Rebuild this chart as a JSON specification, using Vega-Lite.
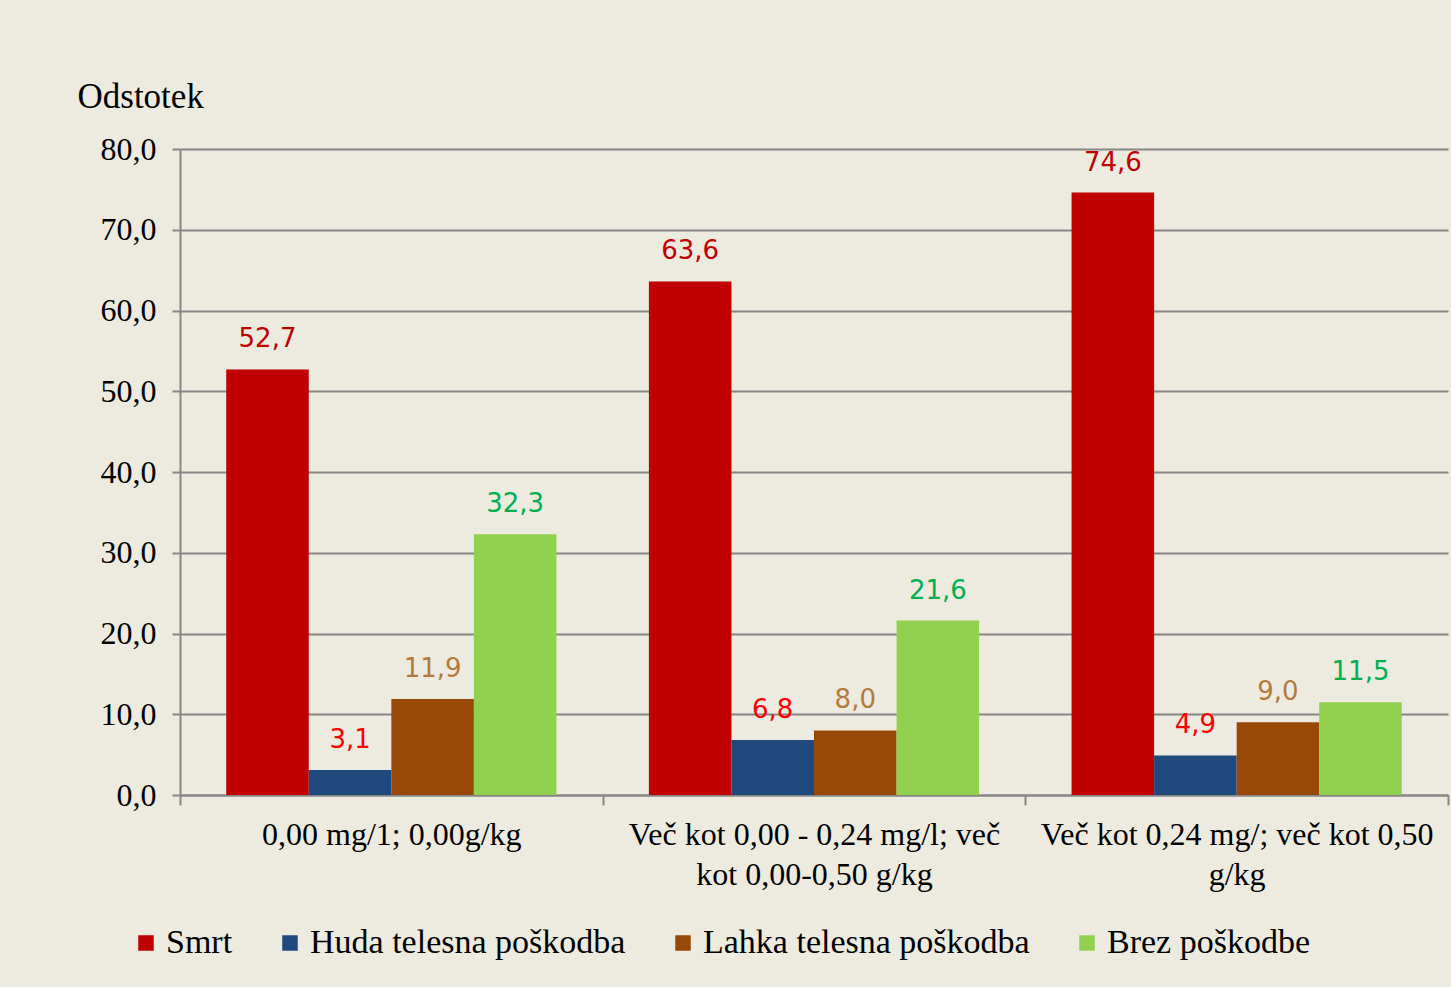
{
  "$schema": "https://vega.github.io/schema/vega-lite/v6.json",
  "autosize": {"type": "none"},
  "padding": {"left": 180, "top": 149, "right": 3, "bottom": 192},
  "width": 1268,
  "height": 646,
  "background": "#EDEBE0",
  "config": {
    "locale": {"number": {"decimal": ",", "thousands": ".", "grouping": [3], "currency": ["", " €"]}},
    "view": {"stroke": null},
    "font": "Liberation Serif"
  },
  "data": {
    "values": [
      {"cat": "0,00 mg/1; 0,00g/kg", "series": "Smrt", "value": 52.7},
      {"cat": "0,00 mg/1; 0,00g/kg", "series": "Huda telesna poškodba", "value": 3.1},
      {"cat": "0,00 mg/1; 0,00g/kg", "series": "Lahka telesna poškodba", "value": 11.9},
      {"cat": "0,00 mg/1; 0,00g/kg", "series": "Brez poškodbe", "value": 32.3},
      {"cat": "Več kot 0,00 - 0,24 mg/l; več kot 0,00-0,50 g/kg", "series": "Smrt", "value": 63.6},
      {"cat": "Več kot 0,00 - 0,24 mg/l; več kot 0,00-0,50 g/kg", "series": "Huda telesna poškodba", "value": 6.8},
      {"cat": "Več kot 0,00 - 0,24 mg/l; več kot 0,00-0,50 g/kg", "series": "Lahka telesna poškodba", "value": 8.0},
      {"cat": "Več kot 0,00 - 0,24 mg/l; več kot 0,00-0,50 g/kg", "series": "Brez poškodbe", "value": 21.6},
      {"cat": "Več kot 0,24 mg/; več kot 0,50 g/kg", "series": "Smrt", "value": 74.6},
      {"cat": "Več kot 0,24 mg/; več kot 0,50 g/kg", "series": "Huda telesna poškodba", "value": 4.9},
      {"cat": "Več kot 0,24 mg/; več kot 0,50 g/kg", "series": "Lahka telesna poškodba", "value": 9.0},
      {"cat": "Več kot 0,24 mg/; več kot 0,50 g/kg", "series": "Brez poškodbe", "value": 11.5}
    ]
  },
  "encoding": {
    "x": {
      "field": "cat",
      "type": "nominal",
      "sort": null,
      "scale": {"paddingInner": 0, "paddingOuter": 0},
      "axis": {
        "title": null,
        "labelAngle": 0,
        "labelFont": "Liberation Serif",
        "labelFontSize": 32,
        "labelColor": "#000000",
        "labelPadding": 14,
        "labelLineHeight": 40,
        "labelLimit": 0,
        "labelOverlap": false,
        "tickBand": "extent",
        "tickColor": "#868686",
        "tickWidth": 2,
        "tickSize": 10,
        "domainColor": "#868686",
        "domainWidth": 2,
        "labelExpr": "datum.value == 'Več kot 0,00 - 0,24 mg/l; več kot 0,00-0,50 g/kg' ? ['Več kot 0,00 - 0,24 mg/l; več', 'kot 0,00-0,50 g/kg'] : datum.value == 'Več kot 0,24 mg/; več kot 0,50 g/kg' ? ['Več kot 0,24 mg/; več kot 0,50', 'g/kg'] : datum.value"
      }
    },
    "xOffset": {
      "field": "series",
      "type": "nominal",
      "sort": ["Smrt", "Huda telesna poškodba", "Lahka telesna poškodba", "Brez poškodbe"],
      "scale": {"paddingInner": 0, "paddingOuter": 0.56}
    },
    "y": {
      "field": "value",
      "type": "quantitative",
      "scale": {"domain": [0, 80], "nice": false},
      "axis": {
        "values": [0, 10, 20, 30, 40, 50, 60, 70, 80],
        "format": ".1f",
        "title": "Odstotek",
        "titleAngle": 0,
        "titleAlign": "left",
        "titleBaseline": "alphabetic",
        "titleX": -103,
        "titleY": -42,
        "titleFont": "Liberation Serif",
        "titleFontSize": 35,
        "titleFontWeight": "normal",
        "titleColor": "#000000",
        "labelFont": "Liberation Serif",
        "labelFontSize": 32,
        "labelColor": "#000000",
        "labelPadding": 16,
        "tickSize": 8,
        "tickColor": "#868686",
        "tickWidth": 2,
        "domainColor": "#868686",
        "domainWidth": 2,
        "grid": true,
        "gridColor": "#868686",
        "gridWidth": 2
      }
    }
  },
  "layer": [
    {
      "mark": {"type": "bar"},
      "encoding": {
        "color": {
          "field": "series",
          "type": "nominal",
          "sort": ["Smrt", "Huda telesna poškodba", "Lahka telesna poškodba", "Brez poškodbe"],
          "scale": {
            "domain": ["Smrt", "Huda telesna poškodba", "Lahka telesna poškodba", "Brez poškodbe"],
            "range": ["#C00000", "#1F497D", "#984807", "#92D050"]
          },
          "legend": {
            "title": null,
            "orient": "none",
            "direction": "horizontal",
            "legendX": -51,
            "legendY": 777,
            "symbolType": "square",
            "symbolSize": 240,
            "symbolStrokeWidth": 0,
            "symbolOpacity": 1,
            "labelFont": "Liberation Serif",
            "labelFontSize": 34,
            "labelColor": "#000000",
            "labelOffset": 3,
            "labelLimit": 0,
            "columnPadding": 40
          }
        }
      }
    },
    {
      "mark": {"type": "text", "font": "DejaVu Sans", "fontSize": 26, "baseline": "alphabetic", "dy": -22},
      "encoding": {
        "text": {"field": "value", "type": "quantitative", "format": ".1f"},
        "color": {
          "condition": [
            {"test": "datum.series === 'Smrt'", "value": "#C00000"},
            {"test": "datum.series === 'Huda telesna poškodba'", "value": "#FF0000"},
            {"test": "datum.series === 'Lahka telesna poškodba'", "value": "#B47A3C"}
          ],
          "value": "#00B050"
        }
      }
    }
  ]
}
